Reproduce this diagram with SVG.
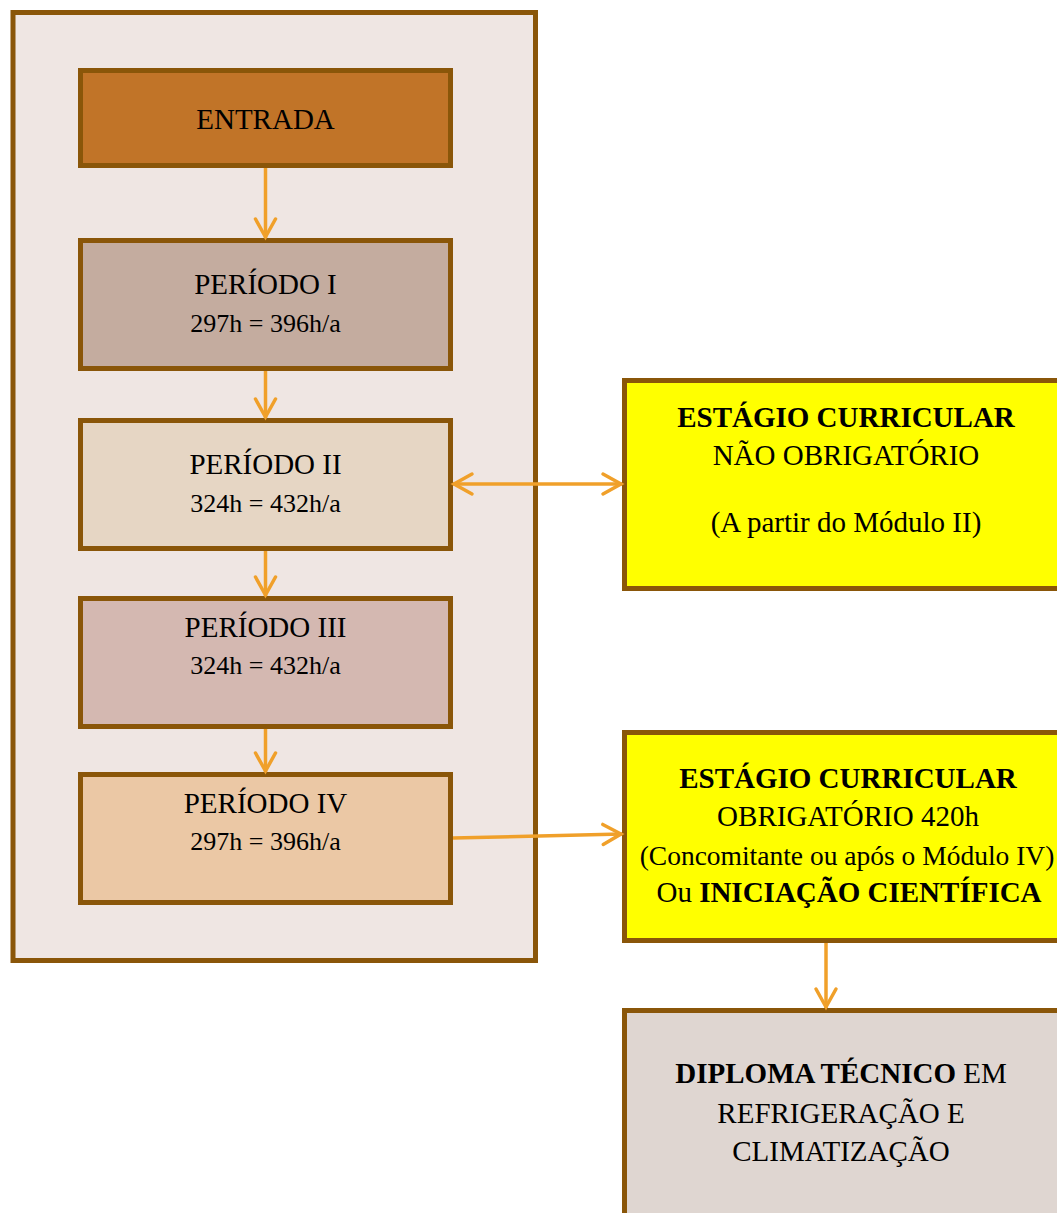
<svg xmlns="http://www.w3.org/2000/svg" width="1057" height="1213" viewBox="0 0 1057 1213">
<style>
.box{stroke:#8A5609;stroke-width:5}
.t{font-family:"Liberation Serif","Times New Roman",serif;fill:#000;text-anchor:middle}
.h{font-size:29px}
.n{font-size:26px}
.b{font-weight:bold}
.c{stroke:#F0A02A;stroke-width:3.5;fill:none}
</style>
<defs>
<marker id="ah" markerUnits="userSpaceOnUse" markerWidth="26" markerHeight="26" viewBox="-22 -13 24 26" refX="0" refY="0" orient="auto-start-reverse">
<path d="M-19,-10 L-1,0 L-19,10" fill="none" stroke="#F0A02A" stroke-width="3.5" stroke-linecap="round" stroke-linejoin="miter"/>
</marker>
</defs>
<rect width="1057" height="1213" fill="#fff"/>
<g id="container">
<rect class="box" x="13" y="12.5" width="522.5" height="948" fill="#EFE6E3"/>
</g>
<g id="entrada">
<rect class="box" x="80.5" y="70.5" width="370" height="95" fill="#C17428"/>
<text class="t h" x="265.5" y="129">ENTRADA</text>
</g>
<g id="periodo1">
<rect class="box" x="80.5" y="240.5" width="370" height="128" fill="#C4AC9F"/>
<text class="t h" x="265.5" y="294">PERÍODO I</text>
<text class="t n" x="265.5" y="332">297h = 396h/a</text>
</g>
<g id="periodo2">
<rect class="box" x="80.5" y="420.5" width="370" height="128" fill="#E6D6C4"/>
<text class="t h" x="265.5" y="474">PERÍODO II</text>
<text class="t n" x="265.5" y="512">324h = 432h/a</text>
</g>
<g id="periodo3">
<rect class="box" x="80.5" y="598.5" width="370" height="128" fill="#D4B8B1"/>
<text class="t h" x="265.5" y="637">PERÍODO III</text>
<text class="t n" x="265.5" y="674">324h = 432h/a</text>
</g>
<g id="periodo4">
<rect class="box" x="80.5" y="774.5" width="370" height="128" fill="#EBC8A5"/>
<text class="t h" x="265.5" y="813">PERÍODO IV</text>
<text class="t n" x="265.5" y="850">297h = 396h/a</text>
</g>
<g id="estagio-nao-obrigatorio">
<rect class="box" x="624.5" y="380.5" width="460" height="208" fill="#FFFF00"/>
<text class="t h b" x="846" y="427">ESTÁGIO CURRICULAR</text>
<text class="t h" x="846" y="465">NÃO OBRIGATÓRIO</text>
<text class="t h" x="846" y="532">(A partir do Módulo II)</text>
</g>
<g id="estagio-obrigatorio">
<rect class="box" x="624.5" y="732.5" width="460" height="208" fill="#FFFF00"/>
<text class="t h b" x="848" y="788">ESTÁGIO CURRICULAR</text>
<text class="t h" x="848" y="826">OBRIGATÓRIO 420h</text>
<text class="t" x="847" y="865" style="font-size:27.5px">(Concomitante ou após o Módulo IV)</text>
<text class="t h" x="849" y="902">Ou <tspan class="b">INICIAÇÃO CIENTÍFICA</tspan></text>
</g>
<g id="diploma">
<rect class="box" x="624.5" y="1010.5" width="460" height="230" fill="#DFD6D1"/>
<text class="t h" x="841" y="1083"><tspan class="b">DIPLOMA TÉCNICO</tspan> EM</text>
<text class="t h" x="841" y="1123">REFRIGERAÇÃO E</text>
<text class="t h" x="841" y="1161">CLIMATIZAÇÃO</text>
</g>
<g id="connectors">
<line class="c" x1="265.5" y1="168" x2="265.5" y2="238" marker-end="url(#ah)"/>
<line class="c" x1="265.5" y1="371" x2="265.5" y2="418" marker-end="url(#ah)"/>
<line class="c" x1="265.5" y1="551" x2="265.5" y2="596" marker-end="url(#ah)"/>
<line class="c" x1="265.5" y1="729" x2="265.5" y2="772" marker-end="url(#ah)"/>
<line class="c" x1="453" y1="484" x2="622" y2="484" marker-start="url(#ah)" marker-end="url(#ah)"/>
<line class="c" x1="453" y1="838" x2="622" y2="834" marker-end="url(#ah)"/>
<line class="c" x1="826" y1="943" x2="826" y2="1008" marker-end="url(#ah)"/>
</g>
</svg>
